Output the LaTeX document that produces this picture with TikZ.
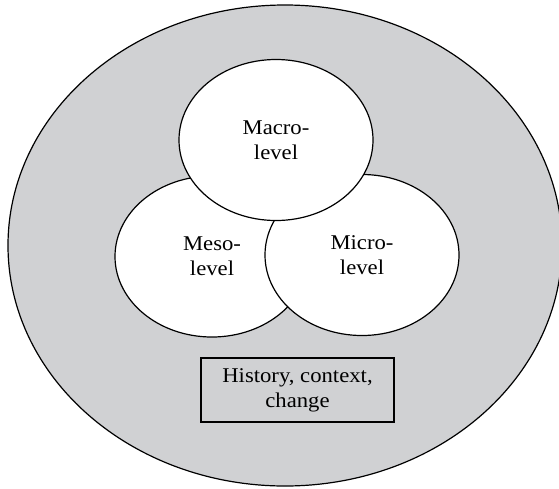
\documentclass[tikz,border=0pt]{standalone}
\usepackage{fontspec}
\setmainfont[FakeStretch=1.08]{Liberation Serif}
\usetikzlibrary{shapes.geometric}
\definecolor{bggray}{RGB}{208,209,211}
\begin{document}
\begin{tikzpicture}[x=1pt,y=-1pt,
  level/.style={ellipse,draw,fill=white,line width=1.2pt,inner sep=0pt,
    minimum width=194pt,minimum height=161pt,align=center,
    font=\fontsize{21}{25}\selectfont},
  histbox/.style={rectangle,draw,line width=1.2pt,inner sep=0pt,
    minimum width=193pt,minimum height=64pt,align=center,
    font=\fontsize{21}{25}\selectfont}]
\useasboundingbox (0,0) rectangle (559,488);
\clip (0,0) rectangle (559,488);
\node[ellipse,draw,fill=bggray,line width=1.2pt,inner sep=0pt,
  minimum width=554pt,minimum height=481pt] (outer) at (285,245.5) {};
\node[level] (meso) at (212,256.5) {Meso-\\level};
\node[level] (micro) at (362,255) {Micro-\\level};
\node[level] (macro) at (276,140) {Macro-\\level};
\node[histbox] (hist) at (297.5,390) {History, context,\\change};
\end{tikzpicture}
\end{document}
